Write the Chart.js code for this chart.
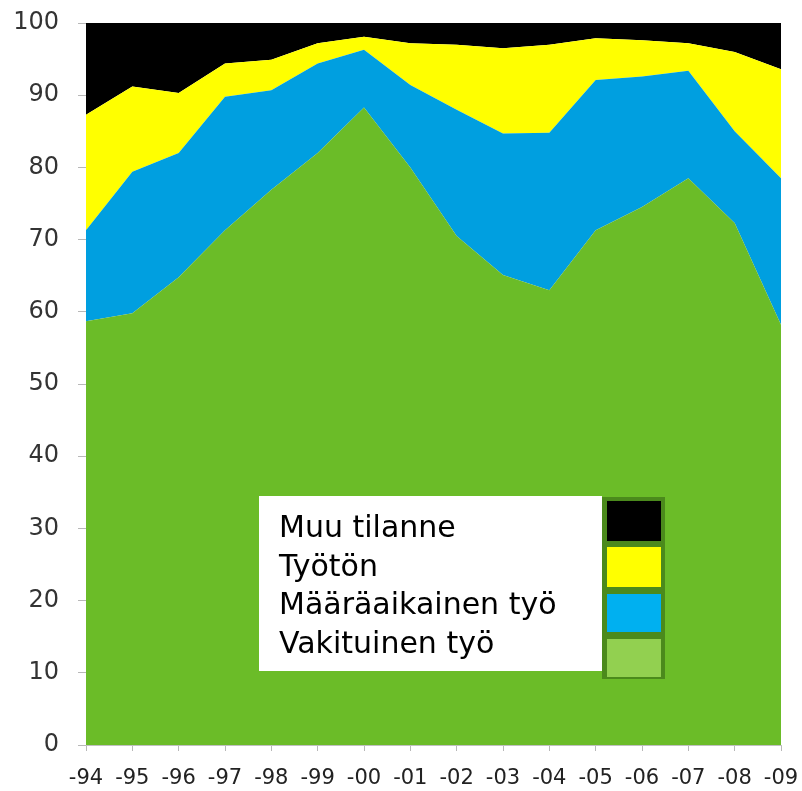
<!DOCTYPE html>
<html>
<head>
<meta charset="utf-8">
<script src="https://cdn.jsdelivr.net/npm/chart.js@4/dist/chart.umd.min.js"></script>
<style>
  html, body { margin: 0; padding: 0; background: #ffffff; }
  #wrap { width: 802px; height: 791px; position: relative; }
</style>
</head>
<body>
<div id="wrap"><canvas id="c" width="802" height="791"></canvas></div>
<script>
// ---- data ----
const years = ['-94','-95','-96','-97','-98','-99','-00','-01','-02','-03','-04','-05','-06','-07','-08','-09'];
const vakituinen    = [58.7, 59.8, 64.8, 71.3, 76.9, 82.0, 88.3, 80.0, 70.5, 65.1, 63.0, 71.3, 74.5, 78.5, 72.3, 58.2];
const maaraaikainen = [12.6, 19.6, 17.2, 18.5, 13.8, 12.4,  8.0, 11.4, 17.5, 19.6, 21.8, 20.8, 18.1, 14.9, 12.7, 20.3];
const tyoton        = [16.0, 11.8,  8.3,  4.6,  4.2,  2.8,  1.8,  5.8,  9.0, 11.8, 12.2,  5.8,  5.0,  3.8, 11.0, 15.1];
const muu           = [12.7,  8.8,  9.7,  5.6,  5.1,  2.8,  1.9,  2.8,  3.0,  3.5,  3.0,  2.1,  2.4,  2.8,  4.0,  6.4];
const seriesNames   = ['Vakituinen työ', 'Määräaikainen työ', 'Työtön', 'Muu tilanne'];
const areaColors    = ['#6bbc28', '#009fe0', '#ffff00', '#000000'];
const legendColors  = ['#92d050', '#00b0f0', '#ffff00', '#000000'];

const legendPlugin = {
  id: 'boxLegend',
  afterDraw(chart) {
    const ctx = chart.ctx;
    const a = chart.chartArea;
    const bx = a.left + 173, by = a.top + 473;     // white box
    const bw = 343, bh = 175;
    const fx = bx + bw, fw = 63, fh = 182;        // swatch frame
    ctx.save();
    ctx.fillStyle = '#ffffff';
    ctx.fillRect(bx, by, bw, bh);
    ctx.fillStyle = '#4b8a1c';
    ctx.fillRect(fx, by + 1, fw, fh);
    const sw = [[4, 54, 40], [50, 39, 40], [97, 38, 38], [142, 37, 38]];
    ctx.font = '30px "DejaVu Sans"';
    ctx.textBaseline = 'alphabetic';
    ctx.textAlign = 'left';
    for (let i = 0; i < 4; i++) {
      const idx = 3 - i;
      ctx.fillStyle = legendColors[idx];
      ctx.fillRect(fx + 5, by + 1 + sw[i][0], 54, sw[i][2]);
      ctx.fillStyle = '#000000';
      ctx.fillText(seriesNames[idx], bx + 20, by + 41 + i * 38.5);
    }
    ctx.restore();
  }
};

const datasets = [vakituinen, maaraaikainen, tyoton, muu].map((d, i) => ({
  label: seriesNames[i],
  data: d,
  backgroundColor: areaColors[i],
  borderColor: areaColors[i],
  borderWidth: 0,
  pointRadius: 0,
  pointHoverRadius: 0,
  tension: 0,
  fill: i === 0 ? 'origin' : '-1'
}));

function noPad(s) { s.paddingTop = 0; s.paddingBottom = 0; s.paddingLeft = 0; s.paddingRight = 0; }

new Chart(document.getElementById('c'), {
  type: 'line',
  data: { labels: years, datasets },
  options: {
    responsive: false,
    animation: false,
    events: [],
    layout: { padding: { top: 23, right: 21, left: 0, bottom: 0 } },
    plugins: { legend: { display: false }, tooltip: { enabled: false } },
    scales: {
      x: {
        offset: false,
        grid: { drawOnChartArea: false, drawTicks: true, tickLength: 6, color: '#b8b8b8' },
        border: { color: '#c0c0c0', width: 1 },
        ticks: {
          autoSkip: false, maxRotation: 0,
          font: { family: 'DejaVu Sans', size: 21 },
          color: '#222222', padding: 15
        },
        afterFit(s) { s.height = 46; noPad(s); }
      },
      y: {
        stacked: true,
        min: 0, max: 100,
        grid: { drawOnChartArea: false, drawTicks: true, tickLength: 8, color: '#b8b8b8' },
        border: { color: '#c0c0c0', width: 1 },
        ticks: {
          stepSize: 10,
          font: { family: 'DejaVu Sans', size: 24 },
          color: '#333333', padding: 19
        },
        afterFit(s) { s.width = 86; noPad(s); }
      }
    }
  },
  plugins: [legendPlugin]
});
</script>
</body>
</html>
